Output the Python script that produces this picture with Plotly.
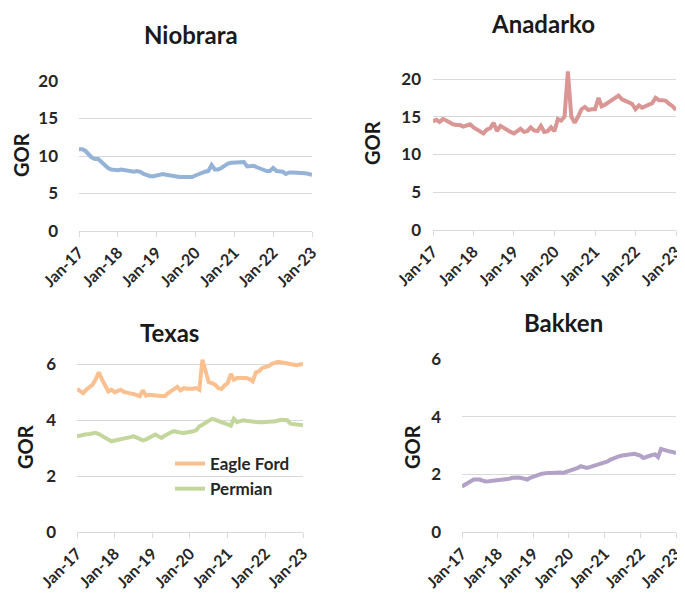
import pandas as pd
import plotly.graph_objects as go

dates = pd.date_range("2017-01-01", periods=73, freq="MS")

niobrara = [10.9, 10.9, 10.7, 10.2, 9.8, 9.6, 9.6, 9.2, 8.8, 8.4, 8.2, 8.1,
            8.1, 8.2, 8.1, 8.0, 8.0, 7.9, 8.0, 7.9, 7.6, 7.4, 7.3, 7.3,
            7.4, 7.5, 7.6, 7.5, 7.4, 7.3, 7.3, 7.2, 7.2, 7.2, 7.1, 7.2,
            7.4, 7.6, 7.8, 7.9, 8.0, 8.8, 8.2, 8.2, 8.4, 8.7, 9.0, 9.1,
            9.1, 9.1, 9.2, 9.2, 8.6, 8.7, 8.7, 8.5, 8.3, 8.1, 8.0, 8.0,
            8.4, 8.0, 8.0, 7.9, 7.6, 7.8, 7.8, 7.8, 7.8, 7.8, 7.7, 7.6,
            7.5]

anadarko = [14.4, 14.6, 14.3, 14.7, 14.5, 14.2, 14.0, 13.9, 13.9, 13.7, 13.8, 14.0,
            13.6, 13.3, 13.1, 12.8, 13.3, 13.5, 14.2, 13.1, 13.8, 13.5, 13.3, 13.0,
            12.8, 13.1, 13.4, 13.0, 13.1, 13.6, 13.2, 13.1, 13.8, 13.0, 13.1, 13.6,
            13.1, 14.7, 14.5, 15.0, 21.0, 15.0, 14.2, 15.0, 16.0, 16.3, 15.9, 16.0,
            16.0, 17.5, 16.4, 16.6, 16.9, 17.1, 17.4, 17.8, 17.3, 17.1, 16.9, 16.7,
            16.0, 16.5, 16.2, 16.4, 16.5, 16.8, 17.5, 17.2, 17.2, 17.1, 16.7, 16.4,
            15.9]

eagle_ford = [5.11, 5.02, 4.96, 5.08, 5.15, 5.26, 5.45, 5.70, 5.44, 5.23, 5.02, 5.08,
              4.99, 5.04, 5.08, 5.00, 4.96, 4.95, 4.93, 4.90, 4.85, 5.06, 4.87, 4.90,
              4.90, 4.88, 4.87, 4.86, 4.85, 4.95, 5.02, 5.10, 5.18, 5.06, 5.14, 5.12,
              5.11, 5.12, 5.14, 5.08, 6.15, 5.74, 5.35, 5.32, 5.26, 5.14, 5.11, 5.23,
              5.32, 5.65, 5.44, 5.50, 5.51, 5.52, 5.50, 5.46, 5.38, 5.70, 5.74, 5.86,
              5.88, 5.92, 6.00, 6.06, 6.08, 6.06, 6.04, 6.03, 6.01, 5.99, 5.96, 5.98,
              6.00]

permian = [3.42, 3.45, 3.48, 3.49, 3.50, 3.52, 3.54, 3.50, 3.42, 3.36, 3.30, 3.24,
           3.26, 3.28, 3.30, 3.33, 3.36, 3.39, 3.42, 3.37, 3.32, 3.27, 3.31, 3.36,
           3.42, 3.48, 3.42, 3.36, 3.44, 3.51, 3.56, 3.60, 3.56, 3.55, 3.54, 3.55,
           3.56, 3.60, 3.63, 3.77, 3.83, 3.89, 3.96, 4.04, 4.01, 3.95, 3.92, 3.89,
           3.85, 3.80, 4.04, 3.92, 3.96, 3.99, 3.97, 3.95, 3.93, 3.92, 3.92, 3.92,
           3.94, 3.95, 3.95, 3.95, 3.98, 4.01, 4.00, 3.99, 3.87, 3.85, 3.83, 3.82,
           3.81]

bakken = [1.58, 1.64, 1.70, 1.76, 1.82, 1.82, 1.82, 1.78, 1.75, 1.76, 1.77, 1.78,
          1.78, 1.80, 1.82, 1.84, 1.85, 1.88, 1.90, 1.89, 1.87, 1.85, 1.82, 1.88,
          1.93, 1.96, 1.99, 2.02, 2.05, 2.05, 2.05, 2.06, 2.07, 2.06, 2.05, 2.08,
          2.10, 2.13, 2.16, 2.22, 2.28, 2.25, 2.22, 2.25, 2.28, 2.31, 2.34, 2.37,
          2.39, 2.45, 2.51, 2.56, 2.60, 2.63, 2.65, 2.66, 2.67, 2.69, 2.71, 2.68,
          2.65, 2.57, 2.61, 2.65, 2.67, 2.69, 2.60, 2.88, 2.84, 2.80, 2.79, 2.77,
          2.74]

titles = ["Niobrara", "Anadarko", "Texas", "Bakken"]
x_tick_fmt = "%b-%y"

# the page body has an 8px margin; figure pixel = screen pixel - OFF
OFF = 8
W, H = 685 - OFF, 595 - OFF
FONT = "Lato"


def px(x0, x1):
    return [(x0 - OFF) / W, (x1 - OFF) / W]


def py(ybottom, ytop):
    return [1 - (ybottom - OFF) / H, 1 - (ytop - OFF) / H]


def pos(x, y):
    return (x - OFF) / W, 1 - (y - OFF) / H


fig = go.Figure()

panels = [
    ("x", "y", (79, 312), (231, 81), [0, 20], 5, 20),
    ("x2", "y2", (433, 676), (230, 67.7), [0, 21.5], 5, 11),
    ("x3", "y3", (77, 303), (532, 355.6), [0, 6.3], 2, 20),
    ("x4", "y4", (462, 676), (532, 359), [0, 6], 2, 20),
]

series = [
    [(niobrara, "Niobrara", "#95B3D7", False)],
    [(anadarko, "Anadarko", "#D99694", False)],
    [(eagle_ford, "Eagle Ford", "#FAC090", True), (permian, "Permian", "#C3D69B", True)],
    [(bakken, "Bakken", "#B3A2C7", False)],
]

for (xa, ya, xd, yd, yr, dt, stand), ser in zip(panels, series):
    for vals, name, color, show in ser:
        fig.add_trace(go.Scatter(
            x=dates, y=vals, name=name, mode="lines",
            line=dict(color=color, width=4),
            xaxis=xa, yaxis=ya, showlegend=show,
        ))
    xkey = "xaxis" + xa[1:]
    ykey = "yaxis" + ya[1:]
    fig.layout[xkey] = dict(
        domain=px(*xd), anchor=ya, type="date", automargin=False,
        range=["2017-01-01", "2023-01-01"],
        tick0="2017-01-01", dtick="M12", tickformat=x_tick_fmt,
        tickangle=-45, showgrid=False, showline=True,
        linecolor="#d9d9d9", linewidth=1,
        ticks="outside", ticklen=5, tickcolor="#d9d9d9",
        tickfont=dict(family=FONT, size=16, color="#262626", weight="bold"),
        zeroline=False, fixedrange=True,
    )
    fig.layout[ykey] = dict(
        domain=py(*yd), anchor=xa, range=yr, dtick=dt, tick0=0, automargin=False,
        showgrid=True, gridcolor="#d9d9d9", gridwidth=1,
        showline=False, zeroline=False, ticks="",
        ticklabelstandoff=stand,
        tickfont=dict(family=FONT, size=17, color="#262626", weight="bold"),
        fixedrange=True,
    )

title_pos = [(191, 34), (543, 23), (169, 332), (563, 322)]
for t, (tx, ty) in zip(titles, title_pos):
    ax_, ay_ = pos(tx, ty)
    fig.add_annotation(text=t, x=ax_, y=ay_, xref="paper", yref="paper",
                       showarrow=False, xanchor="center", yanchor="middle",
                       font=dict(family=FONT, size=24, color="#1a1a1a", weight="bold"))

gor_pos = [(21, 155), (372, 143), (25, 447), (412, 447)]
for gx, gy in gor_pos:
    ax_, ay_ = pos(gx, gy)
    fig.add_annotation(text="GOR", x=ax_, y=ay_, xref="paper", yref="paper",
                       showarrow=False, xanchor="center", yanchor="middle", textangle=-90,
                       font=dict(family=FONT, size=20, color="#1a1a1a", weight="bold"))

lx, ly = pos(170, 446)
fig.update_layout(
    width=W, height=H,
    margin=dict(l=0, r=0, t=0, b=0, autoexpand=False),
    paper_bgcolor="white", plot_bgcolor="white",
    showlegend=True,
    legend=dict(x=lx, y=ly, xanchor="left", yanchor="top",
                bgcolor="rgba(0,0,0,0)", tracegroupgap=0,
                font=dict(family=FONT, size=17, color="#262626", weight="bold"),
                itemwidth=30),
)

fig.write_html("out.html")
